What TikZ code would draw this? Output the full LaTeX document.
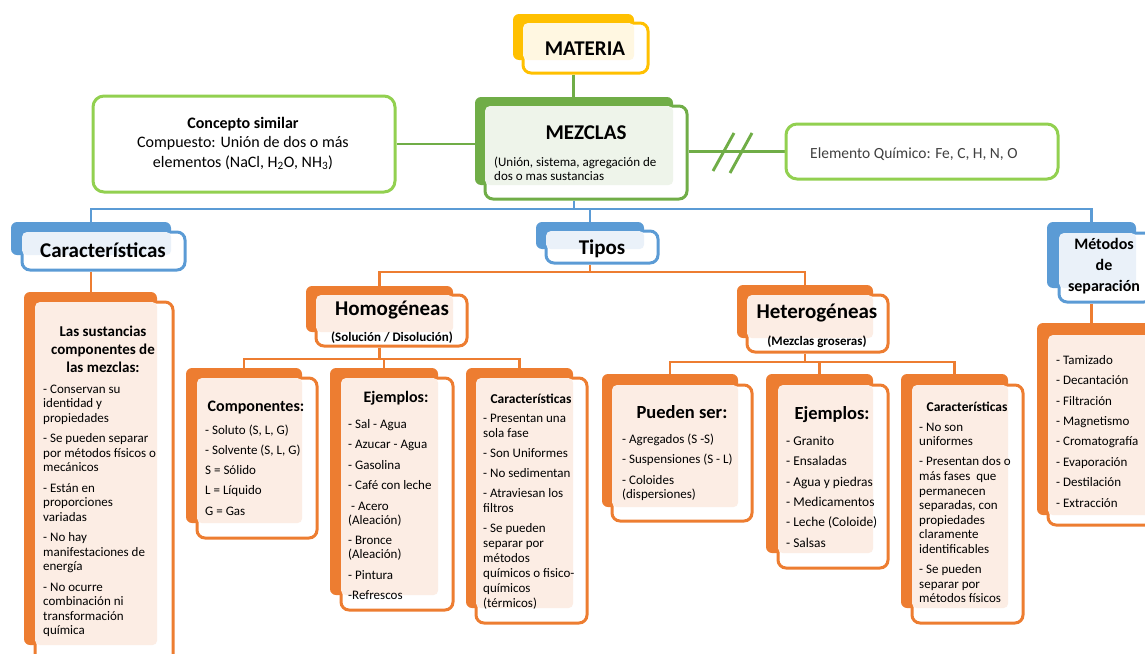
\documentclass[tikz,border=0pt]{standalone}
\usepackage{fontspec}
\setmainfont{Carlito}
\usetikzlibrary{fit,backgrounds}

\definecolor{orangeA}{HTML}{ED7D31}
\definecolor{orangeT}{HTML}{FCEDE4}
\definecolor{blueA}{HTML}{5B9BD5}
\definecolor{blueT}{HTML}{EAF1F9}
\definecolor{yellowA}{HTML}{FFC000}
\definecolor{yellowT}{HTML}{FFF7E1}
\definecolor{greenA}{HTML}{70AD47}
\definecolor{greenT}{HTML}{EEF4EA}
\definecolor{greenL}{HTML}{92D050}
\definecolor{grayT}{HTML}{404040}

\newcommand\fsz[2]{\fontsize{#1}{#2}\selectfont}
% fixed-height first row, so a block's top edge sits exactly 1em above its first baseline
\newcommand\fl{\rule{0pt}{1em}}

% layered box: dark back plate, white framed front plate, light tint where they overlap
% #1 name, #2 colour, #3 tint, #4/#5 back corners, #6/#7 front corners
\newcommand\layered[7]{%
  \node[backbox, fill=#2, fit={(#4) (#5)}] (#1-b) {};
  \node[frontbox, draw=#2, fit={(#6) (#7)}] (#1) {};
  \fill[#3, rounded corners=5pt] ([shift={(1.5pt,-1.5pt)}]#1.north west) rectangle (#1-b.south east);
}

\tikzset{
  backbox/.style={rounded corners=6pt, inner sep=0pt, draw=none},
  frontbox/.style={rounded corners=8pt, inner sep=0pt, fill=white, line width=3pt},
  plainbox/.style={rounded corners=11pt, inner sep=0pt, fill=white, draw=greenL, line width=3pt},
  link/.style={line width=2.9pt},
  lbl/.style={inner sep=0pt, text=black},
  title/.style={lbl, font=\bfseries\fsz{21}{25}, anchor=base},
  list/.style={lbl, align=left, anchor=north west},
  block/.style={lbl, align=center, anchor=north},
}

\begin{document}
\begin{tikzpicture}[x=1pt,y=-1pt]
\useasboundingbox (0,0) rectangle (1145,653);
\clip (0,0) rectangle (1145,653);

% ---------- boxes ----------
\layered{materia}{yellowA}{yellowT}{513,14}{634,60}{523,23}{648,73}
\layered{mezclas}{greenA}{greenT}{475,97}{673,185}{485,106}{687,199}
\node[plainbox, fit={(93,96) (395,192)}] (concepto) {};
\node[plainbox, fit={(786,124) (1058,179)}] (elemento) {};

\layered{caract}{blueA}{blueT}{11,222}{171,255}{22,232}{185,270}
\layered{tipos}{blueA}{blueT}{536,222}{644,249}{546,231}{658,263}
\layered{metodos}{blueA}{blueT}{1047,222}{1136,288}{1059,233}{1152,302}

\layered{sust}{orangeA}{orangeT}{24,292}{157,645}{35,302}{173,670}
\layered{homo}{orangeA}{orangeT}{306,286}{453,332}{316,295}{467,346}
\layered{hetero}{orangeA}{orangeT}{737,285}{873,338}{747,295}{888,352}

\layered{hcomp}{orangeA}{orangeT}{186,368}{302,523}{197,378}{317,538}
\layered{hej}{orangeA}{orangeT}{330,368}{438,595}{341,378}{453,610}
\layered{hcar}{orangeA}{orangeT}{466,368}{573,608}{476,378}{587,623}

\layered{pueden}{orangeA}{orangeT}{602,374}{738,507}{612,385}{752,521}
\layered{xej}{orangeA}{orangeT}{766,374}{873,553}{778,385}{888,568}
\layered{xcar}{orangeA}{orangeT}{901,374}{1008,608}{912,385}{1023,623}

\layered{msep}{orangeA}{orangeT}{1037,323}{1160,515}{1048,335}{1170,525}

% ---------- connectors ----------
\begin{pgfonlayer}{background}
  \coordinate (busB) at (0,209);
  \coordinate (busT) at (0,272);
  \coordinate (busH) at (0,359);
  \coordinate (busX) at (0,362);

  \draw[link, greenA] (materia-b.center |- materia.south) -- (materia-b.center |- mezclas-b.north);
  \draw[link, greenA] (concepto.east) -- (concepto.east -| mezclas-b.west);
  \draw[link, greenA] (mezclas.east |- elemento.west) -- (elemento.west);

  \draw[link, blueA] (mezclas-b.center |- mezclas.south) -- (mezclas-b.center |- busB);
  \draw[link, blueA] (caract-b.north) -- (caract-b.north |- busB) -- (metodos-b.north |- busB) -- (metodos-b.north);
  \draw[link, blueA] (tipos-b.north |- busB) -- (tipos-b.north);

  \draw[link, orangeA] (caract-b.center |- caract.south) -- (caract-b.center |- sust-b.north);
  \draw[link, orangeA] (metodos-b.center |- metodos.south) -- (metodos-b.center |- msep-b.north);

  \draw[link, orangeA] (tipos-b.center |- tipos.south) -- (tipos-b.center |- busT);
  \draw[link, orangeA] (homo-b.north) -- (homo-b.north |- busT) -- (hetero-b.north |- busT) -- (hetero-b.north);

  \draw[link, orangeA] (homo-b.center |- homo.south) -- (homo-b.center |- busH);
  \draw[link, orangeA] (hcomp-b.north) -- (hcomp-b.north |- busH) -- (hcar-b.north |- busH) -- (hcar-b.north);
  \draw[link, orangeA] (hej-b.north |- busH) -- (hej-b.north);

  \draw[link, orangeA] (hetero-b.center |- hetero.south) -- (hetero-b.center |- busX);
  \draw[link, orangeA] (pueden-b.north) -- (pueden-b.north |- busX) -- (xcar-b.north |- busX) -- (xcar-b.north);
  \draw[link, orangeA] (xej-b.north |- busX) -- (xej-b.north);
\end{pgfonlayer}

% "not equal" strokes on the link to the element box
\draw[link, greenA] (713,171) -- (734,133);
\draw[link, greenA] (730,173) -- (752,133);

% ---------- texts ----------
\node[title] (t-materia) at (585,55) {MATERIA};
\node[title] (t-mezclas) at (586,139) {MEZCLAS};
\node[list, font=\fsz{13}{14}] (t-mezclas-sub) at (494,153)
  {\fl(Unión, sistema, agregación de\\dos o mas sustancias};

\node[block, font=\fsz{16}{19.5}] (t-concepto) at (243,112)
  {\fl\textbf{Concepto similar}\\Compuesto: Unión de dos o más\\elementos (NaCl, H\textsubscript{2}O, NH\textsubscript{3})};
\node[lbl, text=grayT, font=\fsz{15.5}{18}, anchor=base west] (t-elemento) at (810,158)
  {Elemento Químico: Fe, C, H, N, O};

\node[title] (t-caract) at (103,257) {Características};
\node[title] (t-tipos) at (602,254) {Tipos};
\node[block, font=\bfseries\fsz{16}{21}] (t-metodos) at (1104,233)
  {\fl Métodos\\de\\separación};

\node[title] (t-homo) at (392,315) {Homogéneas};
\node[lbl, font=\bfseries\fsz{13}{15}, anchor=base] (t-homo-sub) at (392,341) {(Solución / Disolución)};
\node[title] (t-hetero) at (817,318) {Heterogéneas};
\node[lbl, font=\bfseries\fsz{13}{15}, anchor=base] (t-hetero-sub) at (817,345) {(Mezclas groseras)};

% left column
\node[block, font=\bfseries\fsz{15}{18}] (t-sust-head) at (103,321)
  {\fl Las sustancias\\componentes de\\las mezclas:};
\node[list, font=\fsz{13}{14.5}] (t-sust) at (43,380)
  {\fl- Conservan su\\identidad y\\propiedades\\[6pt]- Se pueden separar\\por métodos físicos o\\mecánicos\\[6pt]- Están en\\proporciones\\variadas\\[6pt]- No hay\\manifestaciones de\\energía\\[6pt]- No ocurre\\combinación ni\\transformación\\química};

% homogeneous mixtures
\node[lbl, font=\bfseries\fsz{16}{19}, anchor=base] (t-hcomp-head) at (256,411) {Componentes:};
\node[list, font=\fsz{13}{20.25}] (t-hcomp) at (205,421)
  {\fl- Soluto (S, L, G)\\- Solvente (S, L, G)\\S = Sólido\\L = Líquido\\G = Gas};

\node[lbl, font=\bfseries\fsz{16}{19}, anchor=base] (t-hej-head) at (396,402) {Ejemplos:};
\node[list, font=\fsz{13}{14}] (t-hej) at (348,415)
  {\fl- Sal - Agua\\[6.5pt]- Azucar - Agua\\[6.5pt]- Gasolina\\[6.5pt]- Café con leche\\[6.5pt]\hspace*{3pt}- Acero\\(Aleación)\\[6.5pt]- Bronce\\(Aleación)\\[6.5pt]- Pintura\\[6.5pt]-Refrescos};

\node[lbl, font=\bfseries\fsz{13.5}{16}, anchor=base] (t-hcar-head) at (531,403) {Características};
\node[list, font=\fsz{13}{15}] (t-hcar) at (483,409)
  {\fl- Presentan una\\sola fase\\[5pt]- Son Uniformes\\[5pt]- No sedimentan\\[5pt]- Atraviesan los\\filtros\\[5pt]- Se pueden\\separar por\\métodos\\químicos o fisico-\\químicos\\(térmicos)};

% heterogeneous mixtures
\node[lbl, font=\bfseries\fsz{18.5}{22}, anchor=base] (t-pueden-head) at (682,418) {Pueden ser:};
\node[list, font=\fsz{13}{14}] (t-pueden) at (622,430)
  {\fl- Agregados (S -S)\\[6.5pt]- Suspensiones (S - L)\\[6.5pt]- Coloides\\(dispersiones)};

\node[lbl, font=\bfseries\fsz{18.5}{22}, anchor=base] (t-xej-head) at (832,419) {Ejemplos:};
\node[list, font=\fsz{13.4}{20.4}] (t-xej) at (786,431.6)
  {\fl- Granito\\- Ensaladas\\- Agua y piedras\\- Medicamentos\\- Leche (Coloide)\\- Salsas};

\node[lbl, font=\bfseries\fsz{13.5}{16}, anchor=base] (t-xcar-head) at (967,411) {Características};
\node[list, font=\fsz{13}{14.6}] (t-xcar) at (919,418)
  {\fl- No son\\uniformes\\[5.4pt]- Presentan dos o\\más fases~ que\\permanecen\\separadas, con\\propiedades\\claramente\\identificables\\[5.4pt]- Se pueden\\separar por\\métodos físicos};

% separation methods
\node[list, font=\fsz{13}{20.4}] (t-msep) at (1056,351)
  {\fl- Tamizado\\- Decantación\\- Filtración\\- Magnetismo\\- Cromatografía\\- Evaporación\\- Destilación\\- Extracción};

\end{tikzpicture}
\end{document}
